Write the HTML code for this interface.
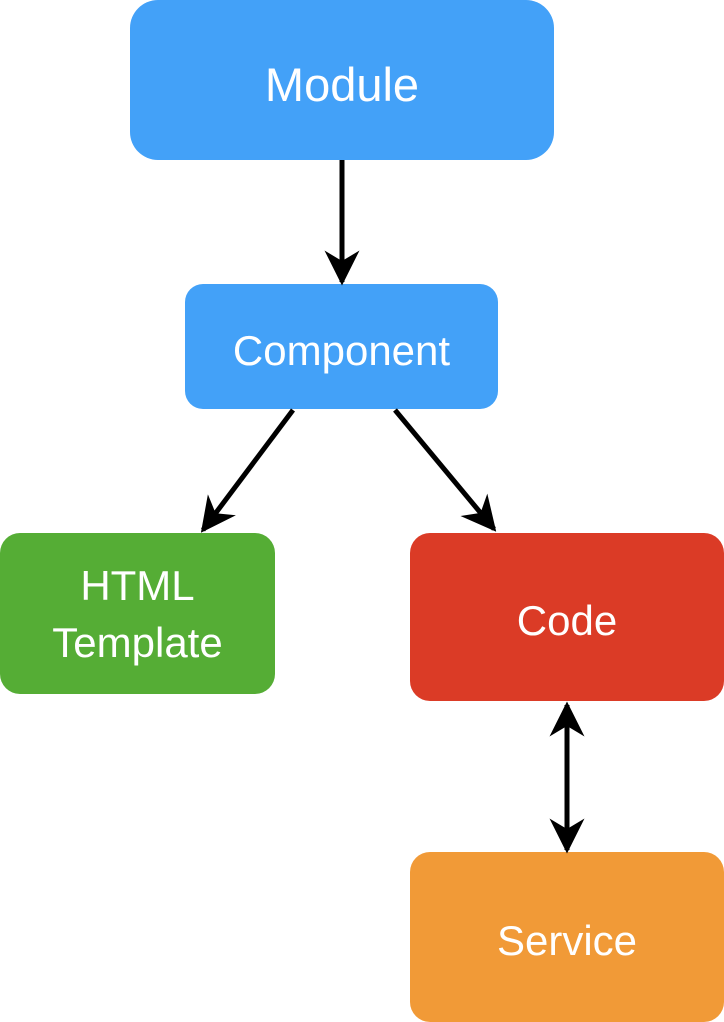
<!DOCTYPE html>
<html><head><meta charset="utf-8"><style>
html,body{margin:0;padding:0;background:#fff;}
body{width:724px;height:1022px;position:relative;overflow:hidden;font-family:"Liberation Sans",Arial,sans-serif;}
.b{position:absolute;display:flex;align-items:center;justify-content:center;text-align:center;color:#fff;font-size:42px;line-height:50px;box-sizing:border-box;padding-top:8px;}
svg{position:absolute;left:0;top:0;}
</style></head><body>
<div class="b" style="left:130px;top:0;width:424px;height:160px;border-radius:28px;background:#43a1f8;font-size:47px;padding-top:10px;">Module</div>
<div class="b" style="left:185px;top:284px;width:313px;height:125px;border-radius:18px;background:#43a1f8;">Component</div>
<div class="b" style="left:0;top:533px;width:275px;height:161px;border-radius:20px;background:#55ad35;line-height:57px;padding-top:0;">HTML<br>Template</div>
<div class="b" style="left:410px;top:533px;width:314px;height:168px;border-radius:20px;background:#db3b26;">Code</div>
<div class="b" style="left:410px;top:852px;width:314px;height:170px;border-radius:20px;background:#f19a37;">Service</div>
<svg width="724" height="1022" viewBox="0 0 724 1022">
<defs>
<marker id="a" viewBox="0 0 20 20" refX="18" refY="10" markerWidth="7" markerHeight="7" orient="auto-start-reverse" markerUnits="strokeWidth">
<path d="M0,0 L20,10 L0,20 L6,10 Z" fill="#000"/>
</marker>
</defs>
<g stroke="#000" stroke-width="5" fill="none">
<line x1="342" y1="160" x2="342" y2="282" marker-end="url(#a)"/>
<line x1="293" y1="410" x2="203" y2="530" marker-end="url(#a)"/>
<line x1="395" y1="410" x2="494" y2="529" marker-end="url(#a)"/>
<line x1="567" y1="705" x2="567" y2="850" marker-start="url(#a)" marker-end="url(#a)"/>
</g>
</svg>
</body></html>
